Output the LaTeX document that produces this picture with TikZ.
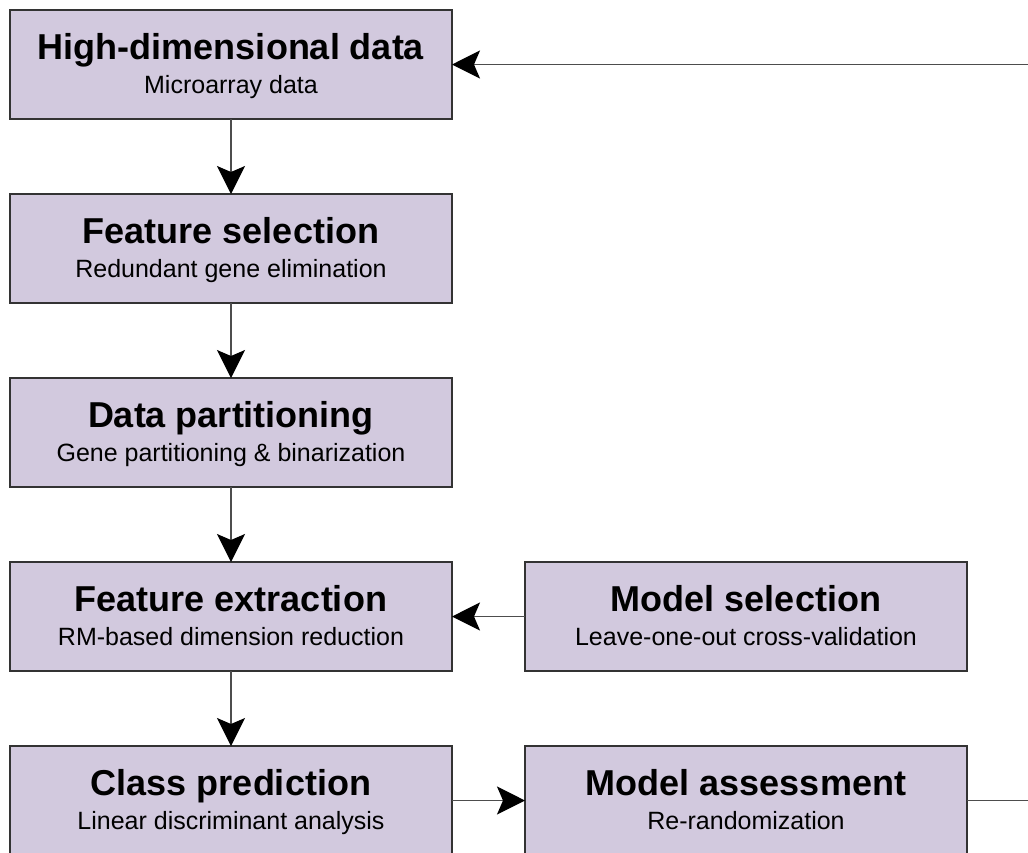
\documentclass[tikz,border=0pt]{standalone}
\usepackage{fontspec}
\setmainfont{Liberation Sans}
\usetikzlibrary{arrows.meta}
\definecolor{boxfill}{RGB}{210,201,222}
\definecolor{boxline}{RGB}{51,51,51}
\definecolor{conline}{RGB}{77,77,77}
\begin{document}
\begin{tikzpicture}[x=1pt,y=-1pt,
  stepbox/.style={draw=boxline, line width=1.4pt, fill=boxfill, minimum width=442pt, minimum height=109pt, inner sep=0pt, outer sep=0pt, anchor=north west},
  ttl/.style={anchor=base, inner sep=0pt, font=\bfseries\fontsize{36}{40}\selectfont},
  sub/.style={anchor=base, inner sep=0pt, font=\fontsize{25}{28}\selectfont},
  conn/.style={draw=conline, line width=1.4pt, -{Stealth[length=28pt,width=28pt,inset=6pt,color=black]}},
  plainline/.style={draw=conline, line width=1.4pt}]
\path[use as bounding box, clip] (0,0) rectangle (1028,852);
\fill[white] (0,0) rectangle (1028,852);

% left column
\node[stepbox] (b1) at (10,10) {};
\node[stepbox] (b2) at (10,194) {};
\node[stepbox] (b3) at (10,378) {};
\node[stepbox] (b4) at (10,562) {};
\node[stepbox] (b5) at (10,746) {};
% right column
\node[stepbox] (ms) at (525,562) {};
\node[stepbox] (ma) at (525,746) {};

% texts
\node[ttl] (t1) at ([yshift=-49pt]b1.north) {High-dimensional data};
\node[sub] (s1) at ([yshift=-83pt]b1.north) {Microarray data};
\node[ttl] (t2) at ([yshift=-49pt]b2.north) {Feature selection};
\node[sub] (s2) at ([yshift=-83pt]b2.north) {Redundant gene elimination};
\node[ttl] (t3) at ([yshift=-49pt]b3.north) {Data partitioning};
\node[sub] (s3) at ([yshift=-83pt]b3.north) {Gene partitioning \& binarization};
\node[ttl] (t4) at ([yshift=-49pt]b4.north) {Feature extraction};
\node[sub] (s4) at ([yshift=-83pt]b4.north) {RM-based dimension reduction};
\node[ttl] (t5) at ([yshift=-49pt]b5.north) {Class prediction};
\node[sub] (s5) at ([yshift=-83pt]b5.north) {Linear discriminant analysis};
\node[ttl] (tms) at ([yshift=-49pt]ms.north) {Model selection};
\node[sub] (sms) at ([yshift=-83pt]ms.north) {Leave-one-out cross-validation};
\node[ttl] (tma) at ([yshift=-49pt]ma.north) {Model assessment};
\node[sub] (sma) at ([yshift=-83pt]ma.north) {Re-randomization};

% connectors
\draw[conn] (b1.south) -- (b2.north);
\draw[conn] (b2.south) -- (b3.north);
\draw[conn] (b3.south) -- (b4.north);
\draw[conn] (b4.south) -- (b5.north);
\draw[conn] (ms.west) -- (b4.east);
\draw[conn] (b5.east) -- (ma.west);
\draw[conn] (ma.east) -- ++(90,0) |- (b1.east);
\end{tikzpicture}
\end{document}
